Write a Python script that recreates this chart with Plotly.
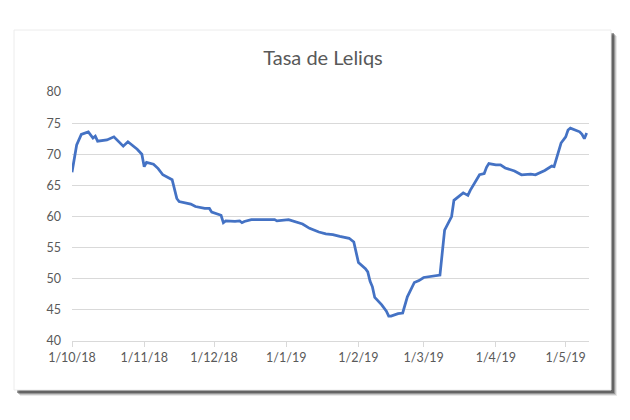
import plotly.graph_objects as go

title_text = "Tasa de Leliqs"

dates = [
    "2018-10-01", "2018-10-03", "2018-10-05", "2018-10-08", "2018-10-10", "2018-10-11",
    "2018-10-12", "2018-10-16", "2018-10-19", "2018-10-23", "2018-10-25", "2018-10-29",
    "2018-10-31", "2018-11-01", "2018-11-02", "2018-11-05", "2018-11-07", "2018-11-09",
    "2018-11-13", "2018-11-15", "2018-11-16", "2018-11-21", "2018-11-23", "2018-11-27",
    "2018-11-29", "2018-11-30", "2018-12-04", "2018-12-05", "2018-12-06", "2018-12-10",
    "2018-12-12", "2018-12-13", "2018-12-14", "2018-12-17", "2018-12-27", "2018-12-28",
    "2019-01-02", "2019-01-04", "2019-01-08", "2019-01-11", "2019-01-15", "2019-01-18",
    "2019-01-21", "2019-01-24", "2019-01-28", "2019-01-30", "2019-02-01", "2019-02-04",
    "2019-02-05", "2019-02-06", "2019-02-07", "2019-02-08", "2019-02-11", "2019-02-13",
    "2019-02-14", "2019-02-15", "2019-02-18", "2019-02-20", "2019-02-22", "2019-02-25",
    "2019-02-27", "2019-03-01", "2019-03-06", "2019-03-08", "2019-03-10", "2019-03-12",
    "2019-03-13", "2019-03-14", "2019-03-18", "2019-03-19", "2019-03-20", "2019-03-21",
    "2019-03-25", "2019-03-27", "2019-03-28", "2019-03-29", "2019-04-01", "2019-04-03",
    "2019-04-05", "2019-04-09", "2019-04-12", "2019-04-16", "2019-04-18", "2019-04-22",
    "2019-04-25", "2019-04-26", "2019-04-29", "2019-05-01", "2019-05-02", "2019-05-03",
    "2019-05-07", "2019-05-08", "2019-05-09", "2019-05-10",
]

rates = [
    67.1, 71.5, 73.2, 73.6, 72.6, 72.9,
    72.1, 72.3, 72.8, 71.3, 72.0, 70.8,
    70.0, 68.0, 68.7, 68.4, 67.7, 66.7,
    65.9, 62.9, 62.4, 62.0, 61.6, 61.3,
    61.3, 60.7, 60.2, 59.0, 59.3, 59.2,
    59.3, 59.0, 59.2, 59.5, 59.5, 59.3,
    59.5, 59.3, 58.8, 58.1, 57.5, 57.2,
    57.1, 56.8, 56.5, 55.9, 52.6, 51.6,
    51.1, 49.6, 48.7, 47.0, 45.8, 44.8,
    44.0, 44.0, 44.4, 44.5, 47.1, 49.4,
    49.7, 50.2, 50.4, 50.6, 57.8, 59.4,
    60.0, 62.6, 63.8, 63.6, 63.4, 64.2,
    66.7, 66.9, 67.9, 68.5, 68.3, 68.3,
    67.8, 67.3, 66.7, 66.8, 66.7, 67.4,
    68.1, 68.0, 71.8, 72.8, 73.9, 74.2,
    73.6, 73.2, 72.5, 73.4,
]

tick_dates = ["2018-10-01", "2018-11-01", "2018-12-01", "2019-01-01",
              "2019-02-01", "2019-03-01", "2019-04-01", "2019-05-01"]
tick_labels = ["1/10/18", "1/11/18", "1/12/18", "1/1/19",
               "1/2/19", "1/3/19", "1/4/19", "1/5/19"]
y_ticks = [40, 45, 50, 55, 60, 65, 70, 75, 80]

W, H = 630, 420
OFF = 8  # page body margin
PL, PR, PT, PB = 72, 589, 92, 341  # plot box in screen pixels
ML, MT = PL - OFF, PT - OFF
PW, PH = PR - PL, PB - PT
MR, MB = W - ML - PW, H - MT - PH


def px(x):
    return (x - PL) / PW


def py(y):
    return (PB - y) / PH


fig = go.Figure()
fig.add_trace(go.Scatter(
    x=dates, y=rates, mode="lines",
    line=dict(color="#4472C4", width=2.75),
    hoverinfo="x+y", showlegend=False,
))

shapes = []
# soft drop shadow
for off, op in [(6, 0.10), (5, 0.18), (4, 0.30), (3, 0.45)]:
    shapes.append(dict(type="rect", xref="paper", yref="paper", layer="below",
                       x0=px(14 + off), x1=px(611 + off), y0=py(390 + off), y1=py(30 + off),
                       fillcolor=f"rgba(40,40,40,{op})", line=dict(width=0)))
shapes.append(dict(type="rect", xref="paper", yref="paper", layer="below",
                   x0=px(14), x1=px(611), y0=py(390), y1=py(30),
                   fillcolor="white", line=dict(color="#ececec", width=1)))

fig.update_layout(
    width=W, height=H,
    margin=dict(l=ML, r=MR, t=MT, b=MB),
    paper_bgcolor="white", plot_bgcolor="rgba(0,0,0,0)",
    font=dict(family="Lato, Open Sans, sans-serif", color="#595959", size=12),
    title=dict(text=title_text, x=0.5, xanchor="center", y=1 - (58 - OFF) / H, yanchor="middle",
               font=dict(size=20, color="#595959", family="Lato, Open Sans, sans-serif")),
    shapes=shapes,
    xaxis=dict(
        type="date", range=["2018-10-01", "2019-05-11"],
        tickmode="array", tickvals=tick_dates, ticktext=tick_labels,
        showgrid=False, showline=True, linecolor="#d9d9d9", linewidth=1,
        ticks="outside", ticklen=5, tickcolor="#d9d9d9",
        tickfont=dict(size=12.5, color="#595959"), zeroline=False,
    ),
    yaxis=dict(
        range=[40, 80], tickmode="array", tickvals=y_ticks,
        showgrid=True, gridcolor="#d9d9d9", gridwidth=1,
        showline=False, zeroline=False, ticks="", ticklabelstandoff=10,
        tickfont=dict(size=12.5, color="#595959"),
    ),
)

fig.write_html("out.html")
